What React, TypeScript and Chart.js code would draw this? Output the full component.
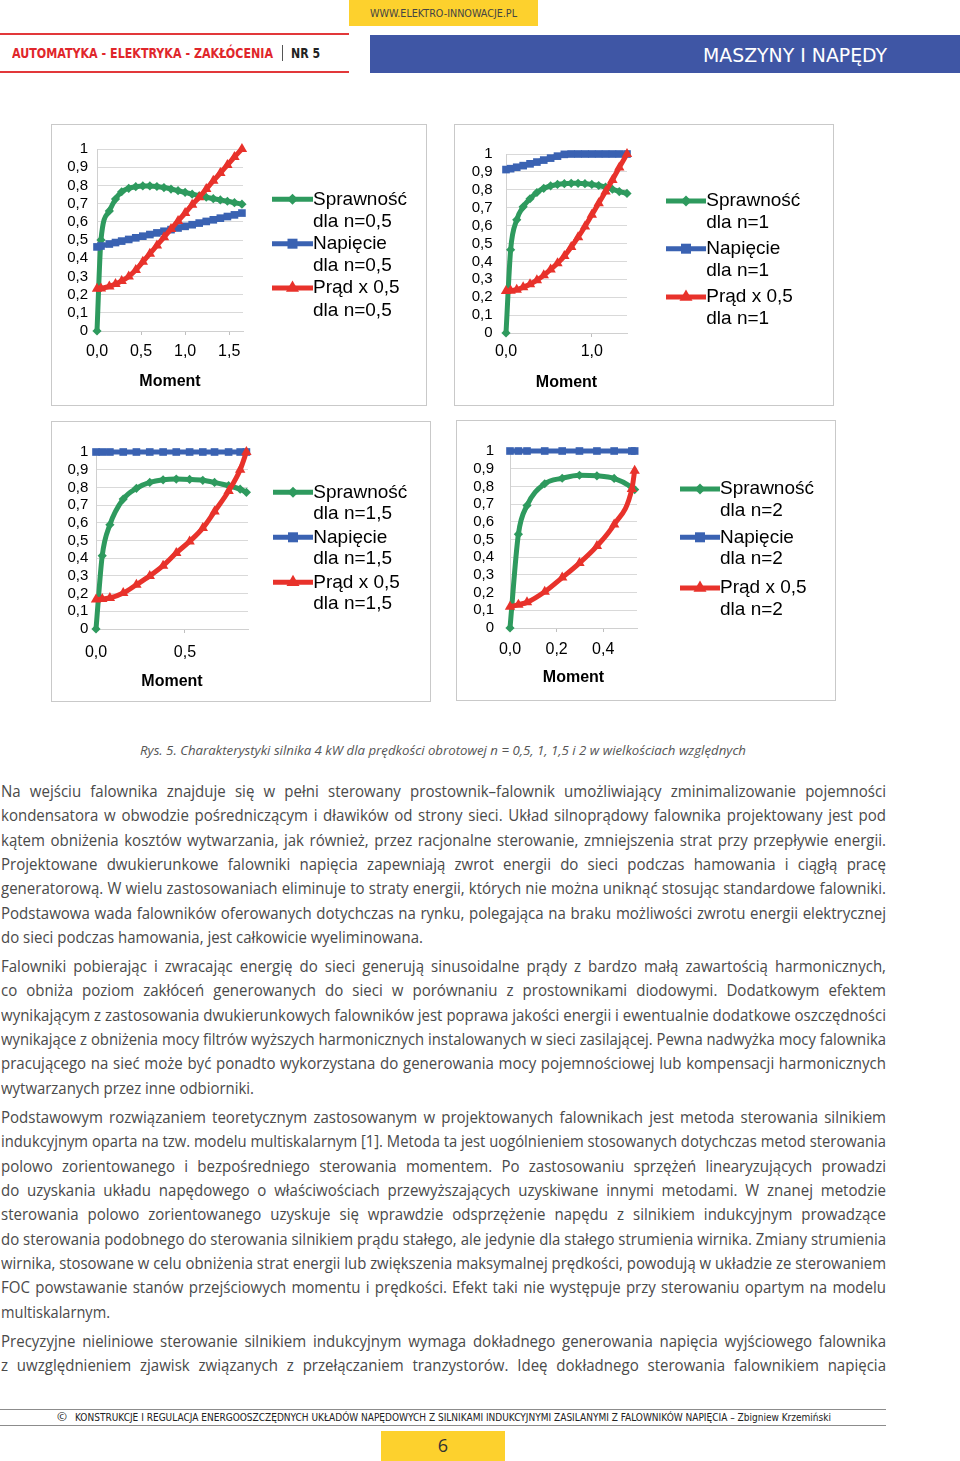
import React, { useEffect, useLayoutEffect, useRef } from "react";
import { Chart, registerables } from "chart.js";

Chart.register(...registerables);

// ---------------- data ----------------
const SERIES_NAMES = ["Sprawność", "Napięcie", "Prąd x 0,5"];
const SPEED_LABELS = ["n=0,5", "n=1", "n=1,5", "n=2"];
const AXIS_TITLE = "Moment";
const Y_TICK_VALUES = [0, 0.1, 0.2, 0.3, 0.4, 0.5, 0.6, 0.7, 0.8, 0.9, 1];
const Y_TICK_LABELS = ["0", "0,1", "0,2", "0,3", "0,4", "0,5", "0,6", "0,7", "0,8", "0,9", "1"];

// n = 0,5
const MOMENT_N05 = [0, 0.045, 0.14, 0.21, 0.28, 0.36, 0.44, 0.52, 0.6, 0.68, 0.76, 0.84, 0.92, 1.0, 1.08, 1.16, 1.24, 1.32, 1.4, 1.48, 1.56, 1.645];
const EFF_N05 = [0, 0.5, 0.66, 0.725, 0.765, 0.784, 0.793, 0.797, 0.797, 0.794, 0.788, 0.78, 0.771, 0.762, 0.752, 0.743, 0.735, 0.727, 0.72, 0.713, 0.705, 0.697];
const VOLT_N05 = [0.462, 0.467, 0.478, 0.486, 0.494, 0.503, 0.512, 0.521, 0.53, 0.539, 0.548, 0.557, 0.566, 0.575, 0.584, 0.593, 0.602, 0.611, 0.62, 0.629, 0.638, 0.648];
const CURR_N05 = [0.232, 0.234, 0.245, 0.258, 0.275, 0.3, 0.335, 0.38, 0.425, 0.47, 0.515, 0.56, 0.605, 0.648, 0.693, 0.735, 0.78, 0.825, 0.868, 0.912, 0.956, 1.0];
const X_MAX_N05 = 1.657;
const X_TICKS_N05 = [0, 0.5, 1.0, 1.5];
const X_TICK_LABELS_N05 = ["0,0", "0,5", "1,0", "1,5"];

// n = 1
const MOMENT_N1 = [0, 0.054, 0.125, 0.2, 0.28, 0.36, 0.44, 0.52, 0.6, 0.68, 0.76, 0.84, 0.92, 1.0, 1.08, 1.16, 1.24, 1.32, 1.41];
const EFF_N1 = [0, 0.465, 0.632, 0.705, 0.75, 0.785, 0.808, 0.822, 0.83, 0.834, 0.836, 0.836, 0.834, 0.83, 0.824, 0.815, 0.803, 0.79, 0.78];
const VOLT_N1 = [0.913, 0.918, 0.926, 0.935, 0.945, 0.955, 0.966, 0.977, 0.988, 0.998, 1.0, 1.0, 1.0, 1.0, 1.0, 1.0, 1.0, 1.0, 1.0];
const CURR_N1 = [0.235, 0.236, 0.242, 0.255, 0.272, 0.295, 0.322, 0.355, 0.39, 0.43, 0.48, 0.535, 0.595, 0.66, 0.725, 0.79, 0.855, 0.925, 1.0];
const X_MAX_N1 = 1.41;
const X_TICKS_N1 = [0, 1.0];
const X_TICK_LABELS_N1 = ["0,0", "1,0"];

// n = 1,5
const MOMENT_N15 = [0, 0.035, 0.078, 0.153, 0.227, 0.302, 0.377, 0.451, 0.526, 0.6, 0.666, 0.745, 0.81, 0.845];
const EFF_N15 = [0, 0.414, 0.589, 0.734, 0.795, 0.828, 0.843, 0.847, 0.845, 0.84, 0.828, 0.81, 0.79, 0.772];
const VOLT_N15 = [1, 1, 1, 1, 1, 1, 1, 1, 1, 1, 1, 1, 1, 1];
const CURR_N15 = [0.166, 0.17, 0.175, 0.203, 0.25, 0.3, 0.358, 0.43, 0.495, 0.57, 0.664, 0.78, 0.9, 1.0];
const X_MAX_N15 = 0.854;
const X_TICKS_N15 = [0, 0.5];
const X_TICK_LABELS_N15 = ["0,0", "0,5"];

// n = 2
const MOMENT_N2 = [0, 0.036, 0.073, 0.149, 0.224, 0.298, 0.373, 0.447, 0.523, 0.535];
const EFF_N2 = [0, 0.53, 0.692, 0.815, 0.846, 0.863, 0.86, 0.845, 0.795, 0.782];
const VOLT_N2 = [1, 1, 1, 1, 1, 1, 1, 1, 1, 1];
const CURR_N2 = [0.12, 0.132, 0.145, 0.205, 0.285, 0.367, 0.463, 0.585, 0.785, 0.889];
const X_MAX_N2 = 0.545;
const X_TICKS_N2 = [0, 0.2, 0.4];
const X_TICK_LABELS_N2 = ["0,0", "0,2", "0,4"];

// ---------------- page text ----------------
const HEADER_SITE = "WWW.ELEKTRO-INNOWACJE.PL";
const HEADER_MAG = "AUTOMATYKA - ELEKTRYKA - ZAKŁÓCENIA";
const HEADER_NR = "NR 5";
const HEADER_SECTION = "MASZYNY I NAPĘDY";
const CAPTION = "Rys. 5. Charakterystyki silnika 4 kW dla prędkości obrotowej n = 0,5, 1, 1,5 i 2 w wielkościach względnych";
const FOOTER_TEXT = "KONSTRUKCJE I REGULACJA ENERGOOSZCZĘDNYCH UKŁADÓW NAPĘDOWYCH Z SILNIKAMI INDUKCYJNYMI ZASILANYMI Z FALOWNIKÓW NAPIĘCIA – Zbigniew Krzemiński";
const PAGE_NO = "6";

const PARAGRAPH_1 = [
  "Na wejściu falownika znajduje się w pełni sterowany prostownik–falownik umożliwiający zminimalizowanie pojemności",
  "kondensatora w obwodzie pośredniczącym i dławików od strony sieci. Układ silnoprądowy falownika projektowany jest pod",
  "kątem obniżenia kosztów wytwarzania, jak również, przez racjonalne sterowanie, zmniejszenia strat przy przepływie energii.",
  "Projektowane dwukierunkowe falowniki napięcia zapewniają zwrot energii do sieci podczas hamowania i ciągłą pracę",
  "generatorową. W wielu zastosowaniach eliminuje to straty energii, których nie można uniknąć stosując standardowe falowniki.",
  "Podstawowa wada falowników oferowanych dotychczas na rynku, polegająca na braku możliwości zwrotu energii elektrycznej",
  "do sieci podczas hamowania, jest całkowicie wyeliminowana.",
];
const PARAGRAPH_2 = [
  "Falowniki pobierając i zwracając energię do sieci generują sinusoidalne prądy z bardzo małą zawartością harmonicznych,",
  "co obniża poziom zakłóceń generowanych do sieci w porównaniu z prostownikami diodowymi. Dodatkowym efektem",
  "wynikającym z zastosowania dwukierunkowych falowników jest poprawa jakości energii i ewentualnie dodatkowe oszczędności",
  "wynikające z obniżenia mocy filtrów wyższych harmonicznych instalowanych w sieci zasilającej. Pewna nadwyżka mocy falownika",
  "pracującego na sieć może być ponadto wykorzystana do generowania mocy pojemnościowej lub kompensacji harmonicznych",
  "wytwarzanych przez inne odbiorniki.",
];
const PARAGRAPH_3 = [
  "Podstawowym rozwiązaniem teoretycznym zastosowanym w projektowanych falownikach jest metoda sterowania silnikiem",
  "indukcyjnym oparta na tzw. modelu multiskalarnym [1]. Metoda ta jest uogólnieniem stosowanych dotychczas metod sterowania",
  "polowo zorientowanego i bezpośredniego sterowania momentem. Po zastosowaniu sprzężeń linearyzujących prowadzi",
  "do uzyskania układu napędowego o właściwościach przewyższających uzyskiwane innymi metodami. W znanej metodzie",
  "sterowania polowo zorientowanego uzyskuje się wprawdzie odsprzężenie napędu z silnikiem indukcyjnym prowadzące",
  "do sterowania podobnego do sterowania silnikiem prądu stałego, ale jedynie dla stałego strumienia wirnika. Zmiany strumienia",
  "wirnika, stosowane w celu obniżenia strat energii lub zwiększenia maksymalnej prędkości, powodują w układzie ze sterowaniem",
  "FOC powstawanie stanów przejściowych momentu i prędkości. Efekt taki nie występuje przy sterowaniu opartym na modelu",
  "multiskalarnym.",
];
const PARAGRAPH_4 = [
  "Precyzyjne nieliniowe sterowanie silnikiem indukcyjnym wymaga dokładnego generowania napięcia wyjściowego falownika",
  "z uwzględnieniem zjawisk związanych z przełączaniem tranzystorów. Ideę dokładnego sterowania falownikiem napięcia",
];

// ---------------- styles / layout ----------------
const GREEN = "#2e9a5e";
const BLUE = "#3a62b2";
const RED = "#e8322b";
const CHART_FONT = '"Liberation Sans", Arial, Helvetica, sans-serif';
const BODY_FONT = '"Open Sans", "Noto Sans", sans-serif';
const NARROW_FONT = '"Liberation Sans Narrow", "DejaVu Sans Condensed", "Open Sans", sans-serif';

type LegendLayout = { x0: number; x1: number; textX: number; rows: number[]; gap: number };

const CHARTS = [
  {
    moment: MOMENT_N05, eff: EFF_N05, volt: VOLT_N05, curr: CURR_N05,
    xMax: X_MAX_N05, xTicks: X_TICKS_N05, xTickLabels: X_TICK_LABELS_N05, speed: SPEED_LABELS[0],
    box: { left: 51, top: 124, w: 376, h: 282 },
    area: { yAxisW: 46, padTop: 25, padRight: 184, xAxisH: 75, yLabelPad: 9, xLabelPad: 7, titlePad: 15 },
    legend: { x0: 221, x1: 262, textX: 262, rows: [75.3, 119.7, 164], gap: 22.3 },
  },
  {
    moment: MOMENT_N1, eff: EFF_N1, volt: VOLT_N1, curr: CURR_N1,
    xMax: X_MAX_N1, xTicks: X_TICKS_N1, xTickLabels: X_TICK_LABELS_N1, speed: SPEED_LABELS[1],
    box: { left: 454, top: 124, w: 380, h: 282 },
    area: { yAxisW: 52, padTop: 30, padRight: 207, xAxisH: 73, yLabelPad: 13.5, xLabelPad: 5, titlePad: 14 },
    legend: { x0: 212, x1: 252, textX: 252.3, rows: [77, 124.7, 173], gap: 21.6 },
  },
  {
    moment: MOMENT_N15, eff: EFF_N15, volt: VOLT_N15, curr: CURR_N15,
    xMax: X_MAX_N15, xTicks: X_TICKS_N15, xTickLabels: X_TICK_LABELS_N15, speed: SPEED_LABELS[2],
    box: { left: 51, top: 421, w: 380, h: 281 },
    area: { yAxisW: 45, padTop: 31, padRight: 183, xAxisH: 73, yLabelPad: 7.7, xLabelPad: 10, titlePad: 10.7 },
    legend: { x0: 222, x1: 262, textX: 262.3, rows: [71.3, 116.3, 161.3], gap: 21.7 },
  },
  {
    moment: MOMENT_N2, eff: EFF_N2, volt: VOLT_N2, curr: CURR_N2,
    xMax: X_MAX_N2, xTicks: X_TICKS_N2, xTickLabels: X_TICK_LABELS_N2, speed: SPEED_LABELS[3],
    box: { left: 456, top: 420, w: 380, h: 281 },
    area: { yAxisW: 54, padTop: 31, padRight: 199, xAxisH: 73, yLabelPad: 16, xLabelPad: 8.4, titlePad: 13.4 },
    legend: { x0: 224, x1: 264, textX: 264, rows: [69, 117.3, 168], gap: 21.7 },
  },
];

function drawMarker(ctx: CanvasRenderingContext2D, style: string, x: number, y: number, color: string) {
  ctx.save();
  ctx.fillStyle = color;
  ctx.beginPath();
  if (style === "rectRot") {
    const r = 5.5;
    ctx.moveTo(x, y - r);
    ctx.lineTo(x + r, y);
    ctx.lineTo(x, y + r);
    ctx.lineTo(x - r, y);
  } else if (style === "rect") {
    const s = 5;
    ctx.rect(x - s, y - s, 2 * s, 2 * s);
  } else {
    const r = 7.5;
    ctx.moveTo(x, y - r);
    ctx.lineTo(x + r * 0.87, y + r * 0.5);
    ctx.lineTo(x - r * 0.87, y + r * 0.5);
  }
  ctx.closePath();
  ctx.fill();
  ctx.restore();
}

function makeLegendPlugin(labels: string[][], L: LegendLayout) {
  return {
    id: "excelLegend",
    afterDraw(chart: any) {
      const ctx: CanvasRenderingContext2D = chart.ctx;
      chart.data.datasets.forEach((ds: any, i: number) => {
        const y = L.rows[i];
        ctx.save();
        ctx.strokeStyle = ds.borderColor;
        ctx.lineWidth = 5;
        ctx.beginPath();
        ctx.moveTo(L.x0, y);
        ctx.lineTo(L.x1, y);
        ctx.stroke();
        drawMarker(ctx, ds.pointStyle, (L.x0 + L.x1) / 2, y, ds.borderColor);
        ctx.fillStyle = "#000";
        ctx.font = `19px ${CHART_FONT}`;
        ctx.textBaseline = "middle";
        ctx.textAlign = "left";
        labels[i].forEach((t, j) => ctx.fillText(t, L.textX, y + j * L.gap));
        ctx.restore();
      });
    },
  };
}

function MotorChart({ cfg }: { cfg: (typeof CHARTS)[number] }) {
  const ref = useRef<HTMLCanvasElement>(null);
  useEffect(() => {
    const canvas = ref.current;
    if (!canvas) return;
    const mk = (ys: number[]) => cfg.moment.map((x, i) => ({ x, y: ys[i] }));
    const labels = SERIES_NAMES.map((n) => [n, `dla ${cfg.speed}`]);
    const a = cfg.area;
    const chart = new Chart(canvas, {
      type: "line",
      data: {
        datasets: [
          {
            label: `${SERIES_NAMES[0]} dla ${cfg.speed}`,
            data: mk(cfg.eff),
            borderColor: GREEN, backgroundColor: GREEN,
            borderWidth: 5, pointStyle: "rectRot", pointRadius: 4.6, pointBorderWidth: 0,
            cubicInterpolationMode: "monotone", clip: false, order: 3,
          },
          {
            label: `${SERIES_NAMES[1]} dla ${cfg.speed}`,
            data: mk(cfg.volt),
            borderColor: BLUE, backgroundColor: BLUE,
            borderWidth: 5, pointStyle: "rect", pointRadius: 5.4, pointBorderWidth: 0,
            cubicInterpolationMode: "monotone", clip: false, order: 2,
          },
          {
            label: `${SERIES_NAMES[2]} dla ${cfg.speed}`,
            data: mk(cfg.curr),
            borderColor: RED, backgroundColor: RED,
            borderWidth: 5, pointStyle: "triangle", pointRadius: 6, pointBorderWidth: 0,
            cubicInterpolationMode: "monotone", clip: false, order: 1,
          },
        ],
      },
      options: {
        responsive: false,
        animation: false,
        devicePixelRatio: 1,
        layout: { padding: { left: 0, top: a.padTop, right: a.padRight, bottom: 0 } },
        plugins: { legend: { display: false }, tooltip: { enabled: false } },
        scales: {
          x: {
            type: "linear",
            min: 0,
            max: cfg.xMax,
            afterBuildTicks: (s: any) => {
              s.ticks = cfg.xTicks.map((v) => ({ value: v }));
            },
            afterFit: (s: any) => {
              s.height = a.xAxisH;
            },
            grid: { drawOnChartArea: false, drawTicks: true, tickLength: 4, color: "#bfbfbf" },
            border: { color: "#d0d0d0" },
            ticks: {
              autoSkip: false,
              maxRotation: 0,
              padding: a.xLabelPad,
              color: "#000",
              font: { family: CHART_FONT, size: 16 },
              callback: (_v: any, i: number) => cfg.xTickLabels[i],
            },
            title: {
              display: true,
              text: AXIS_TITLE,
              color: "#000",
              font: { family: CHART_FONT, size: 16, weight: "bold" },
              padding: { top: 0, bottom: a.titlePad },
            },
          },
          y: {
            type: "linear",
            min: 0,
            max: 1,
            afterBuildTicks: (s: any) => {
              s.ticks = Y_TICK_VALUES.map((v) => ({ value: v }));
            },
            afterFit: (s: any) => {
              s.width = a.yAxisW;
            },
            grid: { color: "#d9d9d9", drawTicks: false, lineWidth: 1 },
            border: { color: "#d0d0d0" },
            ticks: {
              autoSkip: false,
              padding: a.yLabelPad,
              color: "#000",
              font: { family: CHART_FONT, size: 15 },
              callback: (_v: any, i: number) => Y_TICK_LABELS[i],
            },
          },
        },
      } as any,
      plugins: [makeLegendPlugin(labels, cfg.legend) as any],
    });
    return () => chart.destroy();
  }, [cfg]);
  const b = cfg.box;
  return (
    <>
      <canvas
        ref={ref}
        width={b.w}
        height={b.h}
        style={{ position: "absolute", left: b.left, top: b.top, width: b.w, height: b.h }}
      />
      <div
        style={{
          position: "absolute", left: b.left, top: b.top, width: b.w, height: b.h,
          border: "1px solid #c9c9c9", boxSizing: "border-box", pointerEvents: "none",
        }}
      />
    </>
  );
}

type FitProps = {
  text: string; x: number; yc: number; w: number; size: number; family: string; color: string;
  weight?: number; italic?: boolean; justify?: boolean; base?: number; lh?: number; dy?: number;
};

function FitText({ text, x, yc, w, size, family, color, weight = 400, italic = false, justify = false, base = 1, lh = 20, dy = 0 }: FitProps) {
  const ref = useRef<HTMLDivElement>(null);
  useLayoutEffect(() => {
    const el = ref.current;
    if (!el) return;
    const fit = () => {
      el.style.transform = "none";
      el.style.wordSpacing = "0px";
      const nat = el.getBoundingClientRect().width;
      if (!nat) return;
      const spaces = (text.match(/ /g) || []).length;
      if (justify && spaces > 0 && nat * base < w) {
        el.style.wordSpacing = `${(w / base - nat) / spaces}px`;
        el.style.transform = `scaleX(${base})`;
      } else {
        el.style.transform = `scaleX(${w / nat})`;
      }
    };
    fit();
    const fonts = (document as any).fonts;
    if (fonts && fonts.ready) fonts.ready.then(fit);
  }, [text, w]);
  return (
    <div
      ref={ref}
      style={{
        position: "absolute", left: x, top: yc - lh / 2 + dy, height: lh, lineHeight: `${lh}px`,
        whiteSpace: "pre", fontSize: size, fontFamily: family, color, fontWeight: weight,
        fontStyle: italic ? "italic" : "normal", transformOrigin: "0 0",
      }}
    >
      {text}
    </div>
  );
}

const BODY_LEFT = 1;
const BODY_W = 885;
const LINE_STEP = 24.35;

function Paragraph({ lines, startY, lastW }: { lines: string[]; startY: number; lastW?: number }) {
  return (
    <>
      {lines.map((t, i) => {
        const isLast = i === lines.length - 1 && lastW !== undefined;
        return (
          <FitText
            key={i}
            text={t}
            x={BODY_LEFT}
            yc={startY + i * LINE_STEP}
            w={isLast ? (lastW as number) : BODY_W}
            size={15.5}
            family={BODY_FONT}
            color="#4a4a4a"
            justify={!isLast}
            base={0.97}
            lh={22}
            dy={-2}
          />
        );
      })}
    </>
  );
}

export default function App() {
  return (
    <div style={{ position: "absolute", left: 0, top: 0, width: 960, height: 1461, background: "#fff", overflow: "hidden" }}>
      {/* header */}
      <div style={{ position: "absolute", left: 349, top: 0, width: 189, height: 26, background: "#fdd12d" }} />
      <FitText text={HEADER_SITE} x={370} yc={14} w={147} size={11} family={NARROW_FONT} color="#444" lh={14} />
      <div style={{ position: "absolute", left: 0, top: 33, width: 349, height: 2, background: "#e2383a" }} />
      <div style={{ position: "absolute", left: 0, top: 71, width: 349, height: 2, background: "#e2383a" }} />
      <FitText text={HEADER_MAG} x={12} yc={53} w={261} size={14} family={NARROW_FONT} color="#e0262b" weight={700} lh={18} />
      <div style={{ position: "absolute", left: 282, top: 45, width: 1, height: 16, background: "#555" }} />
      <FitText text={HEADER_NR} x={291} yc={53} w={29} size={14} family={NARROW_FONT} color="#222" weight={700} lh={18} />
      <div style={{ position: "absolute", left: 370, top: 35, width: 590, height: 38, background: "#3f56a5" }} />
      <FitText text={HEADER_SECTION} x={703} yc={55} w={184} size={19} family={NARROW_FONT} color="#fff" lh={24} />

      {/* charts */}
      {CHARTS.map((c, i) => (
        <MotorChart key={i} cfg={c} />
      ))}

      {/* caption */}
      <FitText text={CAPTION} x={140} yc={750} w={606} size={13} family={BODY_FONT} color="#555" italic lh={18} />

      {/* body */}
      <Paragraph lines={PARAGRAPH_1} startY={793} lastW={422} />
      <Paragraph lines={PARAGRAPH_2} startY={968} lastW={253} />
      <Paragraph lines={PARAGRAPH_3} startY={1119} lastW={109} />
      <Paragraph lines={PARAGRAPH_4} startY={1343} />

      {/* footer */}
      <div style={{ position: "absolute", left: 0, top: 1409, width: 886, height: 1, background: "#8c8c8c" }} />
      <div style={{ position: "absolute", left: 0, top: 1425, width: 886, height: 1, background: "#8c8c8c" }} />
      <FitText text="©" x={57} yc={1417} w={10} size={11} family={BODY_FONT} color="#222" lh={14} />
      <FitText text={FOOTER_TEXT} x={75} yc={1417} w={756} size={10.5} family={NARROW_FONT} color="#222" lh={14} />
      <div style={{ position: "absolute", left: 381, top: 1431, width: 124, height: 30, background: "#fdd12d" }} />
      <div
        style={{
          position: "absolute", left: 381, top: 1431, width: 124, height: 30, lineHeight: "28px",
          textAlign: "center", fontFamily: BODY_FONT, fontSize: 18, color: "#333",
        }}
      >
        {PAGE_NO}
      </div>
    </div>
  );
}
